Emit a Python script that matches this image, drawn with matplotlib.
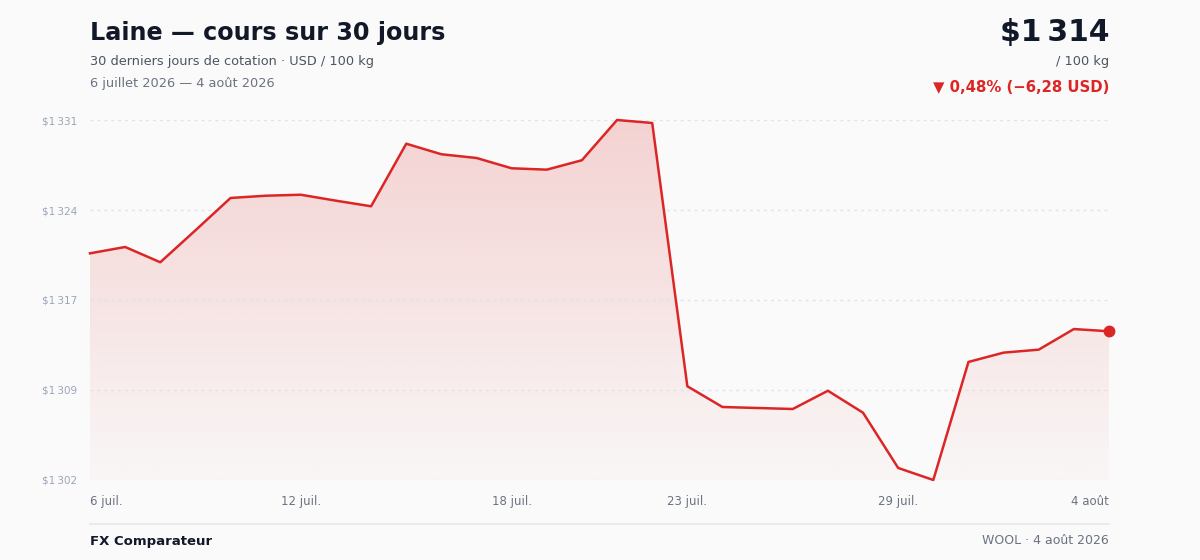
import matplotlib
matplotlib.use('Agg')
import matplotlib.pyplot as plt
import numpy as np
from matplotlib.colors import to_rgb

# données : cours de la laine, USD / 100 kg
days = ['6 juil.', '7 juil.', '8 juil.', '9 juil.', '10 juil.', '11 juil.', '12 juil.',
        '13 juil.', '14 juil.', '15 juil.', '16 juil.', '17 juil.', '18 juil.', '19 juil.',
        '20 juil.', '21 juil.', '22 juil.', '23 juil.', '24 juil.', '25 juil.', '26 juil.',
        '27 juil.', '28 juil.', '29 juil.', '30 juil.', '31 juil.', '1 août', '2 août',
        '3 août', '4 août']
prices = [1320.46, 1320.97, 1319.74, 1322.31, 1324.92, 1325.10, 1325.18, 1324.70,
          1324.25, 1329.29, 1328.44, 1328.14, 1327.31, 1327.20, 1327.96, 1331.20,
          1330.96, 1309.75, 1308.08, 1308.00, 1307.92, 1309.39, 1307.62, 1303.17,
          1302.20, 1311.71, 1312.46, 1312.70, 1314.36, 1314.18]
tick_idx = [0, 6, 12, 17, 23, 29]

RED = '#dc2626'
BG = '#fafafa'
NNBSP = '\u202f'

def money(v):
    return '$' + f'{v:,.0f}'.replace(',', NNBSP)

x = np.arange(len(prices))
y = np.array(prices)
lo, hi = y.min(), y.max()

fig = plt.figure(figsize=(12, 5.6), dpi=100, facecolor=BG)
ax = fig.add_axes([90/1200, 1-480/560, 1019/1200, 360/560])
ax.set_facecolor(BG)

# remplissage dégradé sous la courbe (plus dense en haut)
r, g, b = to_rgb(RED)
grad = np.zeros((256, 1, 4))
grad[:, 0, 0], grad[:, 0, 1], grad[:, 0, 2] = r, g, b
grad[:, 0, 3] = np.linspace(0.19, 0.02, 256)
img = ax.imshow(grad, aspect='auto', origin='upper',
                extent=[0, len(prices)-1, lo, hi], zorder=1)
poly = ax.fill_between(x, y, lo, facecolor='none', edgecolor='none')
img.set_clip_path(poly.get_paths()[0], transform=ax.transData)
ax.set_xlim(0, len(prices)-1)
ax.set_ylim(lo, hi)

ax.plot(x, y, color=RED, lw=1.8, zorder=3, clip_on=False)
ax.plot(x[-1], y[-1], 'o', color=RED, ms=7.5, zorder=4, clip_on=False)

yt = np.linspace(lo, hi, 5)
ax.set_yticks(yt)
ax.set_yticklabels([money(v) for v in yt], fontsize=7.5, color='#9aa5b8')
ax.set_xticks(tick_idx)
xl = ax.set_xticklabels([days[i] for i in tick_idx], fontsize=8.5, color='#6b7280')
xl[0].set_ha('left')
xl[-1].set_ha('right')
ax.tick_params(length=0)
ax.tick_params(axis='y', pad=9)
ax.tick_params(axis='x', pad=11)
ax.set_axisbelow(False)
ax.grid(axis='y', color='#dfe2e8', linestyle=(0, (2, 3)), lw=1.0)
for s in ax.spines.values():
    s.set_visible(False)

# en-tête
fig.text(90/1200, 1-33/560, 'Laine — cours sur 30 jours', fontsize=17.2, fontweight='bold',
         color='#111827', va='center', ha='left')
fig.text(90/1200, 1-61/560, '30 derniers jours de cotation · USD / 100 kg', fontsize=9.25,
         color='#4b5563', va='center', ha='left')
fig.text(90/1200, 1-83/560, '6 juillet 2026 — 4 août 2026', fontsize=9.25,
         color='#6b7280', va='center', ha='left')

change = y[-1] - y[0]
pct = abs(change) / y[0] * 100
fig.text(1109/1200, 1-32/560, money(y[-1]), fontsize=21.4, fontweight='bold',
         color='#111827', va='center', ha='right')
fig.text(1109/1200, 1-61/560, '/ 100 kg', fontsize=9.25, color='#4b5563', va='center', ha='right')
chg_txt = f'▼ {pct:.2f}% (−{abs(change):.2f} USD)'.replace('.', ',')
fig.text(1109/1200, 1-87/560, chg_txt, fontsize=10.7, fontweight='bold',
         color=RED, va='center', ha='right')

# pied de page
fig.add_artist(plt.Line2D([90/1200, 1109/1200], [1-524/560, 1-524/560],
                          color='#e5e7eb', lw=1.2))
fig.text(90/1200, 1-541/560, 'FX Comparateur', fontsize=9.5, fontweight='bold',
         color='#111827', va='center', ha='left')
fig.text(1109/1200, 1-541/560, 'WOOL · 4 août 2026', fontsize=9, color='#6b7280',
         va='center', ha='right')

fig.savefig('out.png', dpi=100, facecolor=BG)
